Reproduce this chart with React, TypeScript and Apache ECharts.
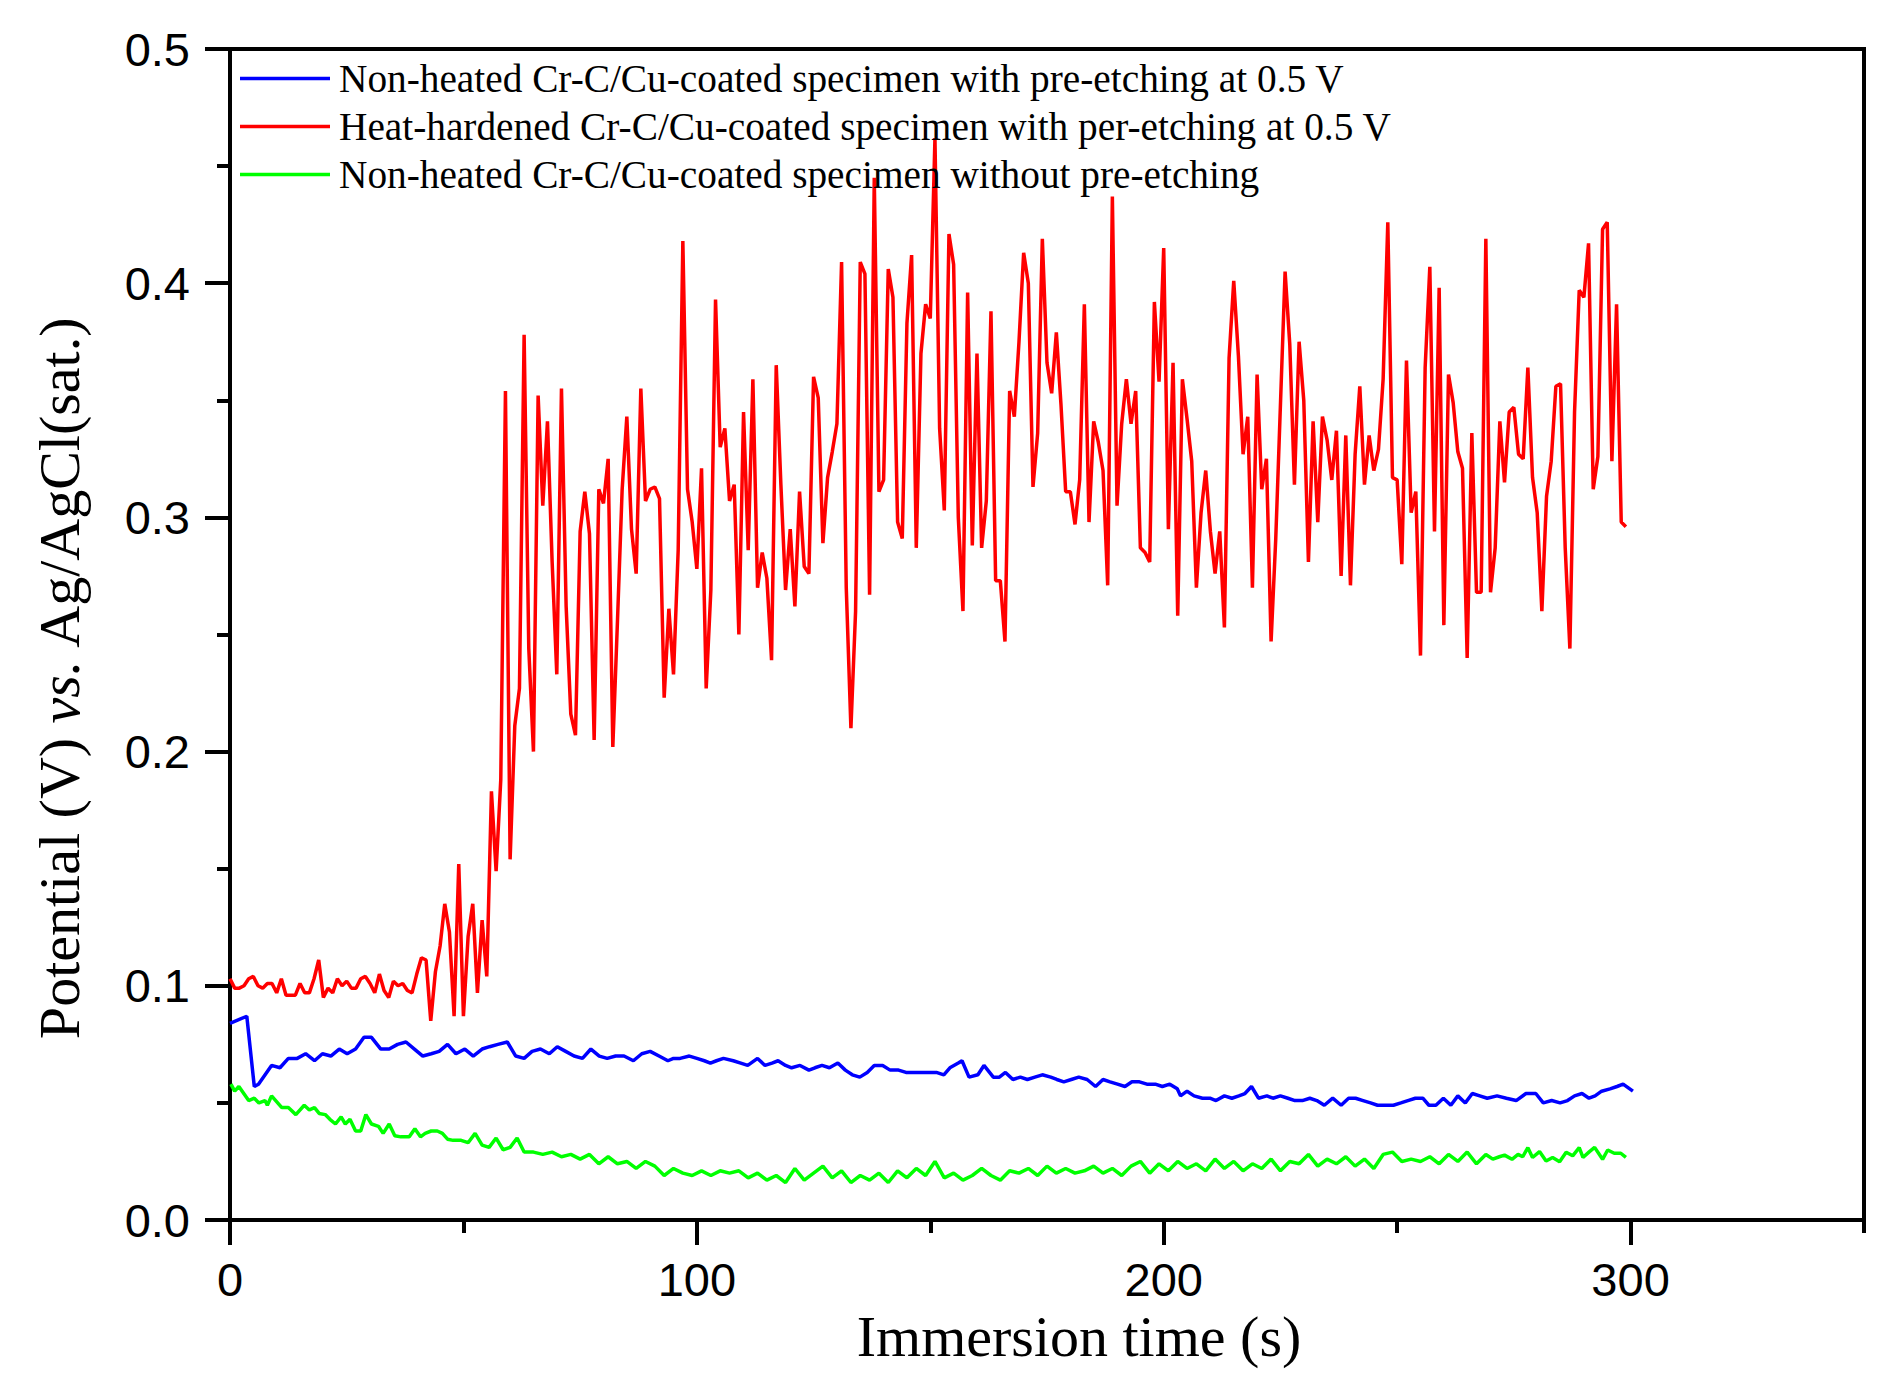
import React, { useEffect, useRef } from 'react';
import * as echarts from 'echarts';

const seriesNames = [
  'Non-heated Cr-C/Cu-coated specimen with pre-etching at 0.5 V',
  'Heat-hardened Cr-C/Cu-coated specimen with per-etching at 0.5 V',
  'Non-heated Cr-C/Cu-coated specimen without pre-etching',
];

const xLabelValues = [0, 100, 200, 300];
const xMinorValues = [50, 150, 250, 350];

const blueData: [number, number][] = [
  [0, 0.084], [3.6, 0.087], [5.2, 0.057], [6.1, 0.058], [8.9, 0.066], [10.7, 0.065], [12.5, 0.069], [14.4, 0.069],
  [16.2, 0.071], [18.1, 0.068], [19.8, 0.071], [21.6, 0.070], [23.4, 0.073], [25.1, 0.071], [26.9, 0.073], [28.7, 0.078],
  [30.3, 0.078], [32.3, 0.073], [34.1, 0.073], [35.9, 0.075], [37.7, 0.076], [39.5, 0.073], [41.3, 0.070], [43.1, 0.071],
  [44.8, 0.072], [46.6, 0.075], [48.4, 0.071], [50.3, 0.073], [52.1, 0.070], [54.0, 0.073], [55.6, 0.074], [57.4, 0.075],
  [59.4, 0.076], [61.2, 0.070], [63.0, 0.069], [64.7, 0.072], [66.5, 0.073], [68.4, 0.071], [70.1, 0.074], [71.9, 0.072],
  [73.7, 0.070], [75.5, 0.069], [77.3, 0.073], [79.1, 0.070], [80.8, 0.069], [82.6, 0.070], [84.4, 0.070], [86.4, 0.068],
  [88.2, 0.071], [90.0, 0.072], [91.9, 0.070], [93.8, 0.068], [95.0, 0.069], [96.4, 0.069], [98.4, 0.070], [100.0, 0.069],
  [101.6, 0.068], [102.9, 0.067], [104.2, 0.068], [105.7, 0.069], [107.8, 0.068], [109.4, 0.067], [110.9, 0.066], [113.0, 0.069],
  [114.6, 0.066], [116.1, 0.067], [117.4, 0.068], [119.0, 0.066], [120.3, 0.065], [122.1, 0.066], [124.0, 0.064], [125.3, 0.065],
  [126.8, 0.066], [128.4, 0.065], [130.2, 0.067], [131.8, 0.064], [133.3, 0.062], [134.9, 0.061], [136.5, 0.063], [138.0, 0.066],
  [139.8, 0.066], [141.4, 0.064], [143.2, 0.064], [144.8, 0.063], [146.4, 0.063], [148.2, 0.063], [149.7, 0.063], [151.3, 0.063],
  [152.9, 0.062], [154.2, 0.065], [156.0, 0.067], [156.8, 0.068], [158.3, 0.061], [160.2, 0.062], [161.5, 0.066], [163.5, 0.061],
  [164.8, 0.061], [166.1, 0.063], [167.7, 0.060], [169.3, 0.061], [170.8, 0.060], [172.4, 0.061], [174.0, 0.062], [175.8, 0.061],
  [177.1, 0.060], [178.6, 0.059], [180.2, 0.060], [181.8, 0.061], [183.6, 0.060], [185.4, 0.057], [187.0, 0.060], [188.5, 0.059],
  [190.1, 0.058], [191.7, 0.057], [193.2, 0.059], [194.8, 0.059], [196.4, 0.058], [198.2, 0.058], [199.7, 0.057], [201.3, 0.058],
  [202.9, 0.056], [203.6, 0.053], [205.0, 0.055], [206.5, 0.053], [208.3, 0.052], [209.9, 0.052], [211.2, 0.051], [213.0, 0.053],
  [214.6, 0.052], [216.1, 0.053], [217.4, 0.054], [218.8, 0.057], [220.3, 0.052], [222.1, 0.053], [223.4, 0.052], [225.0, 0.053],
  [226.6, 0.052], [228.1, 0.051], [229.7, 0.051], [231.3, 0.052], [232.8, 0.051], [234.4, 0.049], [236.2, 0.052], [238.0, 0.049],
  [239.6, 0.052], [241.1, 0.052], [242.7, 0.051], [244.3, 0.050], [245.8, 0.049], [247.7, 0.049], [249.2, 0.049], [250.8, 0.050],
  [252.3, 0.051], [253.9, 0.052], [255.5, 0.052], [256.8, 0.049], [258.3, 0.049], [259.9, 0.052], [261.5, 0.049], [263.0, 0.053],
  [264.6, 0.050], [266.1, 0.054], [267.7, 0.053], [269.3, 0.052], [271.4, 0.053], [273.4, 0.052], [275.5, 0.051], [277.6, 0.054],
  [279.7, 0.054], [281.3, 0.050], [283.1, 0.051], [284.9, 0.050], [286.5, 0.051], [288.0, 0.053], [289.6, 0.054], [291.1, 0.052],
  [292.4, 0.053], [293.8, 0.055], [295.6, 0.056], [297.1, 0.057], [298.4, 0.058], [300.5, 0.055],
];

const redData: [number, number][] = [
  [0, 0.103], [1, 0.099], [2, 0.099], [3, 0.100], [4, 0.103], [5, 0.104], [6, 0.100], [7, 0.099], [8, 0.101], [9, 0.101],
  [10, 0.097], [11, 0.103], [12, 0.096], [13, 0.096], [14, 0.096], [15, 0.101], [16, 0.097], [17, 0.097], [18, 0.103], [19, 0.111],
  [20, 0.095], [21, 0.099], [22, 0.097], [23, 0.103], [24, 0.100], [25, 0.102], [26, 0.099], [27, 0.099], [28, 0.103], [29, 0.104],
  [30, 0.101], [31, 0.097], [32, 0.105], [33, 0.098], [34, 0.095], [35, 0.102], [36, 0.100], [37, 0.101], [38, 0.098], [39, 0.097],
  [40, 0.105], [41, 0.112], [42, 0.111], [43, 0.085], [44, 0.106], [45, 0.117], [46, 0.135], [47, 0.123], [48, 0.087], [49, 0.152],
  [50, 0.087], [51, 0.121], [52, 0.135], [53, 0.097], [54, 0.128], [55, 0.104], [56, 0.183], [57, 0.149], [58, 0.188], [59, 0.354],
  [60, 0.154], [61, 0.211], [62, 0.227], [63, 0.378], [64, 0.244], [65, 0.200], [66, 0.352], [67, 0.305], [68, 0.341], [69, 0.281],
  [70, 0.233], [71, 0.355], [72, 0.262], [73, 0.216], [74, 0.207], [75, 0.294], [76, 0.311], [77, 0.293], [78, 0.205], [79, 0.312],
  [80, 0.306], [81, 0.325], [82, 0.202], [83, 0.256], [84, 0.312], [85, 0.343], [86, 0.295], [87, 0.276], [88, 0.355], [89, 0.307],
  [90, 0.312], [91, 0.313], [92, 0.308], [93, 0.223], [94, 0.261], [95, 0.233], [96, 0.286], [97, 0.418], [98, 0.312], [99, 0.298],
  [100, 0.278], [101, 0.321], [102, 0.227], [103, 0.269], [104, 0.393], [105, 0.330], [106, 0.338], [107, 0.307], [108, 0.314], [109, 0.250],
  [110, 0.345], [111, 0.286], [112, 0.359], [113, 0.270], [114, 0.285], [115, 0.274], [116, 0.239], [117, 0.365], [118, 0.314], [119, 0.269],
  [120, 0.295], [121, 0.262], [122, 0.311], [123, 0.279], [124, 0.276], [125, 0.360], [126, 0.351], [127, 0.289], [128, 0.317], [129, 0.328],
  [130, 0.340], [131, 0.409], [132, 0.270], [133, 0.210], [134, 0.260], [135, 0.409], [136, 0.404], [137, 0.267], [138, 0.445], [139, 0.311],
  [140, 0.316], [141, 0.406], [142, 0.394], [143, 0.298], [144, 0.291], [145, 0.383], [146, 0.412], [147, 0.287], [148, 0.370], [149, 0.391],
  [150, 0.385], [151, 0.462], [152, 0.338], [153, 0.303], [154, 0.421], [155, 0.408], [156, 0.300], [157, 0.260], [158, 0.396], [159, 0.288],
  [160, 0.370], [161, 0.287], [162, 0.307], [163, 0.388], [164, 0.273], [165, 0.273], [166, 0.247], [167, 0.354], [168, 0.343], [169, 0.375],
  [170, 0.413], [171, 0.400], [172, 0.313], [173, 0.336], [174, 0.419], [175, 0.366], [176, 0.353], [177, 0.379], [178, 0.348], [179, 0.311],
  [180, 0.311], [181, 0.297], [182, 0.316], [183, 0.391], [184, 0.298], [185, 0.341], [186, 0.332], [187, 0.320], [188, 0.271], [189, 0.437],
  [190, 0.305], [191, 0.340], [192, 0.359], [193, 0.340], [194, 0.354], [195, 0.287], [196, 0.285], [197, 0.281], [198, 0.392], [199, 0.358],
  [200, 0.415], [201, 0.295], [202, 0.366], [203, 0.258], [204, 0.359], [205, 0.342], [206, 0.324], [207, 0.270], [208, 0.302], [209, 0.320],
  [210, 0.294], [211, 0.276], [212, 0.294], [213, 0.253], [214, 0.368], [215, 0.401], [216, 0.369], [217, 0.327], [218, 0.343], [219, 0.270],
  [220, 0.361], [221, 0.312], [222, 0.325], [223, 0.247], [224, 0.291], [226, 0.405], [227, 0.374], [228, 0.314], [229, 0.375],
  [230, 0.350], [231, 0.281], [232, 0.341], [233, 0.298], [234, 0.343], [235, 0.333], [236, 0.316], [237, 0.337], [238, 0.275], [239, 0.335],
  [240, 0.271], [241, 0.327], [242, 0.356], [243, 0.314], [244, 0.335], [245, 0.320], [246, 0.329], [247, 0.359], [248, 0.426], [249, 0.317],
  [250, 0.316], [251, 0.280], [252, 0.367], [253, 0.302], [254, 0.311], [255, 0.241], [256, 0.364], [257, 0.407], [258, 0.294], [259, 0.398],
  [260, 0.254], [261, 0.361], [262, 0.349], [263, 0.328], [264, 0.321], [265, 0.240], [266, 0.336], [267, 0.268], [268, 0.268], [269, 0.419],
  [270, 0.268], [271, 0.287], [272, 0.341], [273, 0.315], [274, 0.345], [275, 0.347], [276, 0.327], [277, 0.325], [278, 0.364], [279, 0.317],
  [280, 0.302], [281, 0.260], [282, 0.309], [283, 0.324], [284, 0.356], [285, 0.357], [286, 0.287], [287, 0.244], [288, 0.345], [289, 0.397],
  [290, 0.394], [291, 0.417], [292, 0.312], [293, 0.326], [294, 0.423], [295, 0.426], [296, 0.324], [297, 0.391], [298, 0.298], [299, 0.296],
];

const greenData: [number, number][] = [
  [0.2, 0.058], [1.0, 0.055], [1.9, 0.057], [4.0, 0.051], [5.2, 0.052], [6.2, 0.050], [7.5, 0.051], [8.0, 0.049], [8.9, 0.053],
  [11.1, 0.048], [12.5, 0.048], [14.1, 0.045], [15.9, 0.049], [17.0, 0.047], [18.1, 0.048], [19.1, 0.0455], [20.4, 0.045],
  [21.4, 0.043], [22.6, 0.041], [23.8, 0.044], [24.7, 0.041], [25.7, 0.043], [26.9, 0.038], [28.0, 0.038], [29.1, 0.045],
  [30.3, 0.041], [31.8, 0.040], [32.8, 0.037], [34.1, 0.041], [35.3, 0.036], [36.6, 0.0355], [38.4, 0.0355], [39.6, 0.039],
  [40.8, 0.0355], [41.8, 0.037], [43.1, 0.038], [44.4, 0.038], [45.5, 0.037], [46.6, 0.0345], [47.8, 0.034], [49.5, 0.034],
  [51, 0.033], [52.5, 0.037], [54, 0.032], [55.5, 0.031], [57, 0.035], [58.5, 0.030], [60, 0.031], [61.5, 0.035], [63, 0.029],
  [65, 0.029], [67, 0.028], [69, 0.029], [71, 0.027], [73, 0.028], [75, 0.026], [77, 0.028], [79, 0.024], [81, 0.027],
  [83, 0.024], [85, 0.025], [87, 0.022], [89, 0.025], [91, 0.023], [93, 0.019], [95, 0.022], [97, 0.020], [99, 0.019],
  [101, 0.021], [103, 0.019], [105, 0.021], [107, 0.020], [109, 0.021], [111, 0.018], [113, 0.020], [115, 0.017], [117, 0.019],
  [119, 0.016], [121, 0.022], [123, 0.017], [125, 0.020], [127, 0.023], [129, 0.018], [131, 0.021], [133, 0.016], [135, 0.019],
  [137, 0.017], [139, 0.020], [141, 0.016], [143, 0.021], [145, 0.018], [147, 0.022], [149, 0.019], [151, 0.025], [153, 0.018],
  [155, 0.020], [157, 0.017], [159, 0.019], [161, 0.022], [163, 0.019], [165, 0.017], [167, 0.021], [169, 0.020], [171, 0.022],
  [173, 0.019], [175, 0.023], [177, 0.020], [179, 0.022], [181, 0.020], [183, 0.021], [185, 0.023], [187, 0.020], [189, 0.022],
  [191, 0.019], [193, 0.023], [195, 0.025], [197, 0.020], [199, 0.024], [201, 0.021], [203, 0.025], [205, 0.022], [207, 0.024],
  [209, 0.021], [211, 0.026], [213, 0.022], [215, 0.025], [217, 0.021], [219, 0.024], [221, 0.022], [223, 0.026], [225, 0.021],
  [227, 0.025], [229, 0.024], [231, 0.028], [233, 0.023], [235, 0.026], [237, 0.024], [239, 0.027], [241, 0.023], [243, 0.026],
  [245, 0.022], [247, 0.028], [249, 0.029], [251, 0.025], [253, 0.026], [255, 0.025], [257, 0.027], [259, 0.024], [261, 0.028],
  [263, 0.025], [265, 0.029], [267, 0.024], [269, 0.028], [270.5, 0.026], [271.9, 0.027], [273.0, 0.0277], [274.6, 0.0259],
  [275.9, 0.028], [276.9, 0.027], [278.0, 0.0309], [279.0, 0.0267], [280.5, 0.0292], [281.9, 0.0252], [283.3, 0.0267],
  [284.8, 0.0249], [286.2, 0.0289], [287.6, 0.0274], [289.0, 0.0309], [289.8, 0.0267], [291.2, 0.0292], [292.3, 0.031],
  [294.0, 0.0259], [295.1, 0.0299], [296.5, 0.0285], [297.9, 0.0285], [299.0, 0.0267],
];

const serif = 'Liberation Serif';
const sans = 'Liberation Sans';
const lineWidth = 3.5;

export default function App() {
  const ref = useRef<HTMLDivElement>(null);
  useEffect(() => {
    const chart = echarts.init(ref.current as HTMLDivElement, null, { renderer: 'svg' });
    chart.setOption({
      animation: false,
      backgroundColor: '#ffffff',
      grid: { left: 230, right: 40, top: 49, bottom: 172, show: true, borderColor: '#000', borderWidth: 4 },
      legend: {
        show: true,
        orient: 'vertical',
        left: 235,
        top: 54,
        icon: 'rect',
        itemWidth: 90,
        itemHeight: 3.5,
        itemGap: 9,
        textStyle: { fontFamily: serif, fontSize: 39.3, color: '#000', padding: [0, 0, 0, 4], lineHeight: 39 },
        data: seriesNames,
      },
      xAxis: [
        {
          type: 'value',
          min: 0,
          max: 350,
          interval: 50,
          position: 'bottom',
          axisLine: { show: true, onZero: false, lineStyle: { color: '#000', width: 4 } },
          axisTick: { show: true, inside: false, length: 25, customValues: xLabelValues, lineStyle: { color: '#000', width: 4 } },
          axisLabel: { customValues: xLabelValues, margin: 36, fontSize: 47, fontFamily: sans, color: '#000' },
          splitLine: { show: false },
          name: 'Immersion time (s)',
          nameLocation: 'middle',
          nameGap: 80,
          nameTextStyle: { fontFamily: serif, fontSize: 58, color: '#000', padding: [0, 0, 0, 64] },
        },
        {
          type: 'value',
          min: 0,
          max: 350,
          interval: 50,
          position: 'bottom',
          axisLine: { show: false, onZero: false },
          axisTick: { show: true, inside: false, length: 13, customValues: xMinorValues, lineStyle: { color: '#000', width: 4 } },
          axisLabel: { show: false },
          splitLine: { show: false },
        },
      ],
      yAxis: {
        type: 'value',
        min: 0,
        max: 0.5,
        interval: 0.1,
        axisLine: { show: true, onZero: false, lineStyle: { color: '#000', width: 4 } },
        axisTick: { show: true, inside: false, length: 25, lineStyle: { color: '#000', width: 4 } },
        minorTick: { show: true, splitNumber: 2, length: 13, lineStyle: { color: '#000', width: 4 } },
        axisLabel: {
          margin: 40,
          fontSize: 47,
          fontFamily: sans,
          color: '#000',
          formatter: (v: number) => v.toFixed(1),
        },
        splitLine: { show: false },
        minorSplitLine: { show: false },
        name: '{n|Potential (V) }{i|vs.}{n| Ag/AgCl(sat.)}',
        nameLocation: 'middle',
        nameGap: 142,
        nameTextStyle: {
          fontFamily: serif,
          fontSize: 58,
          color: '#000',
          padding: [0, 86, 0, 0],
          rich: {
            n: { fontFamily: serif, fontSize: 58, color: '#000' },
            i: { fontFamily: serif, fontSize: 58, color: '#000', fontStyle: 'italic' },
          },
        },
      },
      series: [
        { type: 'line', name: seriesNames[0], data: blueData, symbol: 'none', showSymbol: false, lineStyle: { color: '#0000ff', width: lineWidth }, itemStyle: { color: '#0000ff' } },
        { type: 'line', name: seriesNames[1], data: redData, symbol: 'none', showSymbol: false, lineStyle: { color: '#ff0000', width: lineWidth }, itemStyle: { color: '#ff0000' } },
        { type: 'line', name: seriesNames[2], data: greenData, symbol: 'none', showSymbol: false, lineStyle: { color: '#00ff00', width: lineWidth }, itemStyle: { color: '#00ff00' } },
      ],
    });
    return () => chart.dispose();
  }, []);
  return (
    <div
      ref={ref}
      style={{ position: 'absolute', left: 0, top: 0, width: 1904, height: 1392, background: '#fff' }}
    />
  );
}
